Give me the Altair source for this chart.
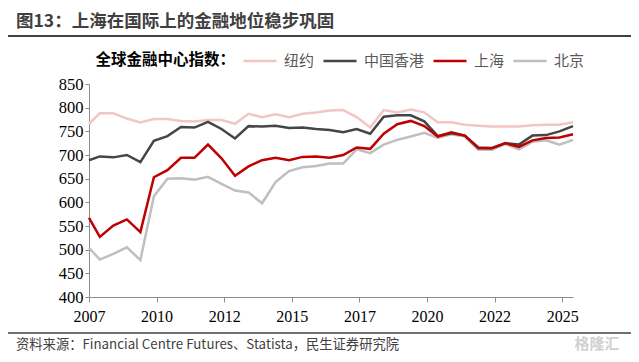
import altair as alt
import pandas as pd

# ---- data ----
periods = [2007.0, 2007.4, 2007.9, 2008.4, 2008.9, 2009.4, 2009.9, 2010.4, 2010.9,
           2011.4, 2011.9, 2012.4, 2012.9, 2013.4, 2013.9, 2014.4, 2014.9, 2015.4,
           2015.9, 2016.4, 2016.9, 2017.4, 2017.9, 2018.4, 2018.9, 2019.4, 2019.9,
           2020.4, 2020.9, 2021.4, 2021.9, 2022.4, 2022.9, 2023.4, 2023.9, 2024.4,
           2024.9]

new_york = [766, 788, 788, 777, 769, 776, 776, 772, 771, 774, 774, 766, 787, 780,
            786, 780, 787, 790, 794, 795, 780, 758, 795, 790, 796, 790, 769, 769,
            764, 762, 760, 760, 760, 763, 764, 764, 769]
hong_kong = [689, 697, 695, 700, 685, 730, 740, 759, 758, 770, 755, 735, 761, 760,
             762, 757, 758, 755, 753, 748, 755, 745, 781, 784, 784, 771, 740, 746,
             741, 716, 715, 725, 722, 741, 742, 750, 761]
shanghai = [567, 527, 551, 564, 537, 653, 668, 694, 694, 722, 693, 656, 676, 689,
            694, 689, 696, 697, 694, 700, 716, 713, 745, 765, 772, 761, 739, 748,
            741, 714, 714, 725, 717, 731, 736, 737, 744]
beijing = [504, 479, 491, 505, 478, 613, 650, 651, 648, 654, 639, 625, 621, 598,
           643, 666, 674, 677, 682, 682, 712, 704, 722, 732, 739, 747, 736, 744,
           739, 711, 711, 723, 712, 728, 731, 722, 732]

legend_order = ["纽约", "中国香港", "上海", "北京"]
colors = ["#F2C6C6", "#454545", "#C00000", "#BFBFBF"]

x_ticks = [2007, 2009.5, 2012, 2014.5, 2017, 2019.5, 2022, 2024.5]
y_ticks = [400, 450, 500, 550, 600, 650, 700, 750, 800, 850]

title_text = "图13：上海在国际上的金融地位稳步巩固"
legend_title = "全球金融中心指数："
source_text = "资料来源：Financial Centre Futures、Statista，民生证券研究院"
watermark = "格隆汇"

# drawing order: light gray first, red last
series = [("北京", beijing), ("纽约", new_york), ("中国香港", hong_kong), ("上海", shanghai)]
rows = []
for name, vals in series:
    for p, v in zip(periods, vals):
        rows.append({"period": p, "value": v, "city": name})
df = pd.DataFrame(rows)

CJK = "Noto Sans CJK SC"
SERIF = "Liberation Serif"

lines = alt.Chart(df).mark_line(strokeWidth=2.5).encode(
    x=alt.X("period:Q",
            scale=alt.Scale(domain=[2007, 2024.9], nice=False, zero=False),
            axis=alt.Axis(values=x_ticks, labelExpr="format(round(datum.value), 'd')",
                          title=None, grid=False, tickSize=5, labelPadding=6,
                          labelFont=SERIF, labelFontSize=16, labelColor="#000000",
                          domainColor="#8C8C8C", tickColor="#8C8C8C",
                          labelFlush=False, labelOverlap=False)),
    y=alt.Y("value:Q",
            scale=alt.Scale(domain=[400, 850], nice=False, zero=False),
            axis=alt.Axis(values=y_ticks, title=None, grid=False, tickSize=4,
                          labelPadding=2, labelFont=SERIF, labelFontSize=16.5,
                          labelColor="#000000", domainColor="#8C8C8C",
                          tickColor="#8C8C8C")),
    color=alt.Color("city:N",
                    scale=alt.Scale(domain=legend_order, range=colors),
                    legend=alt.Legend(title=None, orient="none",
                                      legendX=153, legendY=-41,
                                      direction="horizontal",
                                      labelFont=CJK, labelFontSize=15,
                                      labelColor="#595959", symbolType="stroke",
                                      symbolSize=1089, symbolStrokeWidth=2.5,
                                      labelOffset=6, columnPadding=3)),
    detail="city:N",
)

def text_layer(txt, x, y, size, color, weight="normal", align="left"):
    return alt.Chart(pd.DataFrame({"t": [txt]})).mark_text(
        font=CJK, fontSize=size, fontWeight=weight, color=color,
        align=align, baseline="middle").encode(
        text="t:N", x=alt.value(x), y=alt.value(y))

def rule_layer(y, width):
    return alt.Chart(pd.DataFrame({"r": [0]})).mark_rule(
        color="#404040", strokeWidth=width).encode(
        x=alt.value(-82), x2=alt.value(542), y=alt.value(y))

title = text_layer(title_text, -73, -62, 17.5, "#404040", weight="bold")
legend_head = text_layer(legend_title, 6.5, -24.5, 15.5, "#000000", weight="bold")
top_rule = rule_layer(-48, 2)
bottom_rule = rule_layer(249, 1.5)
source = text_layer(source_text, -73, 261, 13.3, "#404040")
mark = text_layer(watermark, 508, 260, 15, "#D0D0D0", weight="bold", align="center")

chart = alt.layer(lines, title, legend_head, top_rule, bottom_rule, source, mark).properties(
    width=484, height=213,
    autosize=alt.AutoSizeParams(type="none"),
    padding={"left": 81, "top": 76, "right": 58, "bottom": 57},
).configure_view(stroke=None)

chart.save("out.html", embed_options={"renderer": "svg", "actions": False})
